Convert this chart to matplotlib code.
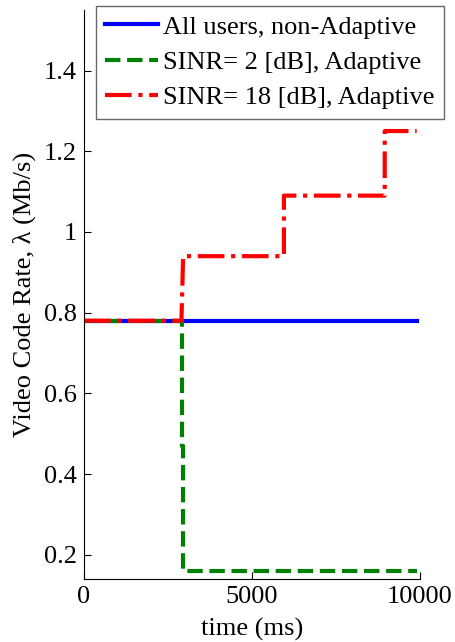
import matplotlib
matplotlib.use("Agg")
import matplotlib.pyplot as plt

plt.rcParams['font.family'] = ['Liberation Serif', 'DejaVu Serif']

t_blue = [0, 9900]
rate_blue = [0.78, 0.78]

t_green = [0, 2920, 2920, 2950, 2950, 9900]
rate_green = [0.78, 0.78, 0.47, 0.47, 0.16, 0.16]

t_red = [0, 2900, 2950, 5950, 5950, 8950, 8950, 9900]
rate_red = [0.78, 0.78, 0.94, 0.94, 1.09, 1.09, 1.25, 1.25]

labels = ["All users, non-Adaptive", "SINR= 2 [dB], Adaptive", "SINR= 18 [dB], Adaptive"]

fig = plt.figure(figsize=(4.55, 6.42), dpi=100)
ax = fig.add_axes([84/455, 63/642, 336/455, 569/642])

lw = 3.0
l1, = ax.plot(t_blue, rate_blue, color='#0000ff', lw=lw, label=labels[0])
l2, = ax.plot(t_green, rate_green, color='#008000', lw=lw, ls='--', label=labels[1])
l3, = ax.plot(t_red, rate_red, color='#ff0000', lw=lw, ls='-.', label=labels[2])

fs = 19
ax.set_xlim(0, 10000)
ax.set_ylim(0.14, 1.55)
ax.set_xticks([0, 5000, 10000])
ax.set_yticks([0.2, 0.4, 0.6, 0.8, 1.0, 1.2, 1.4])
ax.set_yticklabels(['0.2', '0.4', '0.6', '0.8', '1', '1.2', '1.4'])
ax.tick_params(direction='in', labelsize=fs, length=5, width=0.8, colors='black', pad=5)
ax.spines['top'].set_visible(False)
ax.spines['right'].set_visible(False)
ax.set_xlabel('time (ms)', fontsize=fs, labelpad=7)
ax.set_ylabel('Video Code Rate, λ (Mb/s)', fontsize=fs, labelpad=6)

leg = fig.legend(handles=[l1, l2, l3], loc='upper left', bbox_to_anchor=(96/455, 1 - 6/642),
                 fontsize=fs, frameon=True, fancybox=False, edgecolor='#444444',
                 handlelength=2.0, handletextpad=0.2, borderpad=0.35, labelspacing=0.45,
                 borderaxespad=0)
leg.get_frame().set_linewidth(1.0)

fig.savefig('out.png', dpi=100)
